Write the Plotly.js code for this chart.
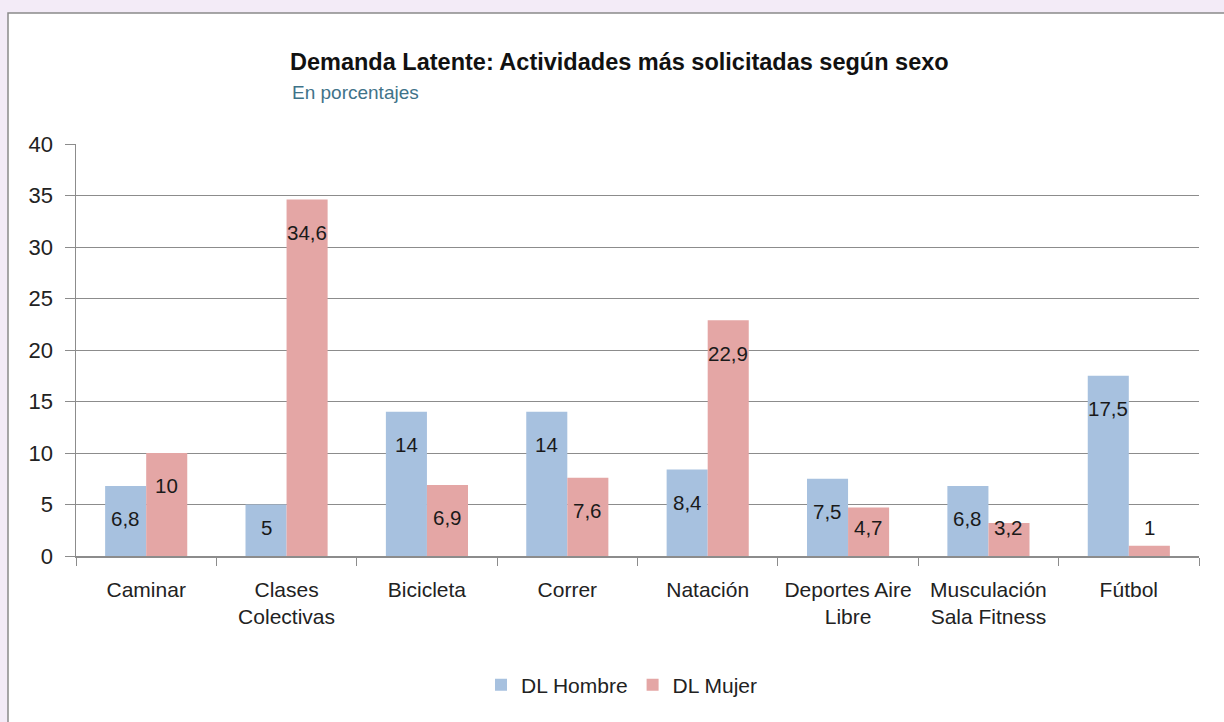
<!DOCTYPE html>
<html>
<head>
<meta charset="utf-8">
<script src="https://cdn.plot.ly/plotly-3.0.1.min.js"></script>
<style>html,body{margin:0;padding:0;background:#f3ebf7;}#chart{width:1224px;height:722px;}</style>
</head>
<body>
<div id="chart"></div>
<script>
const categories = ["Caminar", "Clases<br>Colectivas", "Bicicleta", "Correr", "Natación", "Deportes Aire<br>Libre", "Musculación<br>Sala Fitness", "Fútbol"];
const dlHombre = [6.8, 5, 14, 14, 8.4, 7.5, 6.8, 17.5];
const dlMujer = [10, 34.6, 6.9, 7.6, 22.9, 4.7, 3.2, 1];
const yTicks = [0, 5, 10, 15, 20, 25, 30, 35, 40];
const seriesNames = ["DL Hombre", "DL Mujer"];

const W = 1224, H = 722;
const margin = {l: 76, r: 25, t: 144, b: 166};
const plotW = W - margin.l - margin.r;
const plotH = H - margin.t - margin.b;
const bargap = 0.415;
const barPx = plotW / categories.length * (1 - bargap) / 2;
const fontFam = '"Liberation Sans", Arial, sans-serif';
const blue = '#a7c1df';
const pink = '#e4a6a5';

const fmt = v => String(v).replace('.', ',');
const labelY = v => Math.max(v - 3.2, 2.8);

const annotations = [];
[[dlHombre, -1], [dlMujer, 1]].forEach(([arr, side]) => {
  arr.forEach((v, i) => {
    annotations.push({
      x: categories[i], y: labelY(v), xref: 'x', yref: 'y',
      xshift: side * barPx / 2, text: fmt(v), showarrow: false,
      font: {family: fontFam, size: 20.5, color: '#1a1a1a'},
      xanchor: 'center', yanchor: 'middle'
    });
  });
});
annotations.push({
  xref: 'paper', yref: 'paper', x: (290 - margin.l) / plotW, y: (H - margin.b - 93) / plotH,
  xanchor: 'left', yanchor: 'middle', showarrow: false, text: 'En porcentajes',
  font: {family: fontFam, size: 19, color: '#3f7389'}
});

const traces = [
  {type: 'bar', name: seriesNames[0], x: categories, y: dlHombre, marker: {color: blue}, hoverinfo: 'skip'},
  {type: 'bar', name: seriesNames[1], x: categories, y: dlMujer, marker: {color: pink}, hoverinfo: 'skip'}
];

const layout = {
  width: W, height: H, margin: margin,
  paper_bgcolor: '#f3ebf7', plot_bgcolor: 'rgba(0,0,0,0)',
  font: {family: fontFam, size: 21, color: '#222'},
  barmode: 'group', bargap: bargap, bargroupgap: 0,
  title: {text: '<b>Demanda Latente: Actividades más solicitadas según sexo</b>',
    x: 290 / W, xanchor: 'left', xref: 'container', y: 1 - 62 / H, yanchor: 'middle', yref: 'container',
    font: {family: fontFam, size: 23.5, color: '#111'}},
  xaxis: {type: 'category', tickson: 'boundaries', ticks: 'outside', ticklen: 8, tickcolor: '#8c8c8c',
    showline: true, linecolor: '#8c8c8c', linewidth: 1.5, showgrid: false,
    tickfont: {family: fontFam, size: 21, color: '#222'}, ticklabelstandoff: 14, fixedrange: true},
  yaxis: {range: [0, 40], tickvals: yTicks, ticks: 'outside', ticklen: 10, tickcolor: '#8c8c8c',
    showline: true, linecolor: '#8c8c8c', linewidth: 1.5, showgrid: true, gridcolor: '#8c8c8c', gridwidth: 1,
    zeroline: false, tickfont: {family: fontFam, size: 22, color: '#222'}, ticklabelstandoff: 7, fixedrange: true},
  legend: {orientation: 'h', x: (622 - margin.l) / plotW, xanchor: 'center', y: -(685 - (H - margin.b)) / plotH, yanchor: 'middle',
    font: {family: fontFam, size: 21, color: '#222'}, bgcolor: 'rgba(0,0,0,0)', itemwidth: 30},
  shapes: [{type: 'rect', xref: 'paper', yref: 'paper', layer: 'below',
    x0: (8 - margin.l) / plotW, x1: 1.2, y0: -0.6, y1: (H - margin.b - 13) / plotH,
    fillcolor: '#ffffff', line: {color: '#8a8a8a', width: 1.5}}],
  annotations: annotations,
  showlegend: true
};

Plotly.newPlot('chart', traces, layout, {displayModeBar: false, staticPlot: true});
</script>
</body>
</html>
